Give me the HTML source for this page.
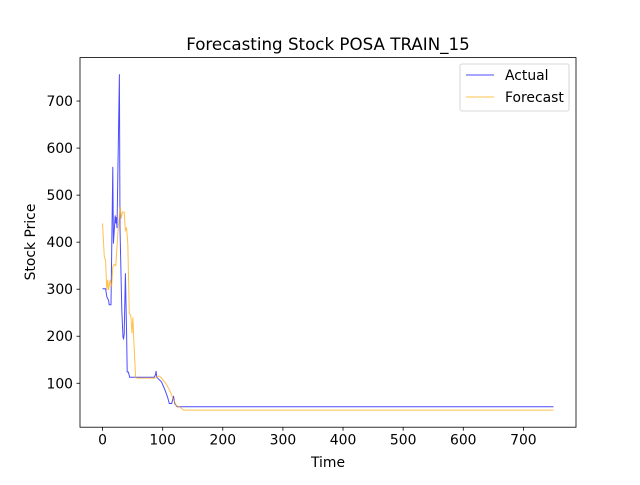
<!DOCTYPE html>
<html><head><meta charset="utf-8"><style>
body{margin:0;background:#fff;}
svg text{font-family:"DejaVu Sans","Liberation Sans",sans-serif;fill:#000;}
</style></head><body>
<svg id="chart" width="640" height="480" xmlns="http://www.w3.org/2000/svg">
<rect width="640" height="480" fill="#fff"/>
<text x="328" y="50" font-size="16.7" text-anchor="middle">Forecasting Stock POSA TRAIN_15</text>
<g id="plot"></g>
<rect x="80" y="57.6" width="496" height="369.6" fill="none" stroke="#000" stroke-width="0.8"/>
<g id="ticks"></g>
<text x="328" y="467" font-size="13.9" text-anchor="middle">Time</text>
<text transform="translate(35,242) rotate(-90)" font-size="13.9" text-anchor="middle">Stock Price</text>
<g>
<rect x="460" y="64" width="109" height="47" rx="2" fill="#fff" fill-opacity="0.8" stroke="#ccc" stroke-width="0.8"/>
<line x1="466" y1="75" x2="494" y2="75" stroke="#0000ff" stroke-opacity="0.7" stroke-width="1"/>
<text x="505" y="80" font-size="13.9">Actual</text>
<line x1="466" y1="97" x2="494" y2="97" stroke="#ffa500" stroke-opacity="0.7" stroke-width="1"/>
<text x="505" y="102" font-size="13.9">Forecast</text>
</g>
</svg>
<script>
const actualT=[0,5,7,10,11,14,17,18,21,22,23,24,28,29,32,34,35,36,38,40,41,43,45,86,88,89,90,98,104,108,111,115,118,120,124,750];
const actualV=[301,301,284,276,267,267,560,397,457,440,453,430,757,430,255,198,195,205,334,206,124,124,113,113,118,126,113,103,85,71,57,57,73,57,50,50];
const forecastT=[0,3,5,7,8.5,10,12.5,15,17,19.5,22,26,29.5,31,33,36,38,40,42,44.5,47,49,50.5,52,55,57,87,91,95,100,106,112,118,123,128,135,750];
const forecastV=[440,369,360,298,320,298,320,305,347,353,350,430,475,450,464,464,425,430,397,248,245,206,240,192,113,111,111,115,115,108,98,84,65,52,50,43,43];
const xTicks=[0,100,200,300,400,500,600,700];
const yTicks=[100,200,300,400,500,600,700];
const X0=80,X1=576,Y0=427.2,Y1=57.6,xmin=-37.5,xmax=787.5,ymin=6.6,ymax=792.4;
const xs=t=>X0+(t-xmin)/(xmax-xmin)*(X1-X0);
const ys=v=>Y0-(v-ymin)/(ymax-ymin)*(Y0-Y1);
const NS="http://www.w3.org/2000/svg";
const plot=document.getElementById('plot'),ticks=document.getElementById('ticks');
function line(T,V,color,name){
  const p=document.createElementNS(NS,'polyline');
  p.setAttribute('points',T.map((t,i)=>xs(t).toFixed(1)+','+ys(V[i]).toFixed(1)).join(' '));
  p.setAttribute('fill','none');p.setAttribute('stroke',color);p.setAttribute('stroke-opacity','0.7');p.setAttribute('stroke-width','1');
  
  
  plot.appendChild(p);
}
line(actualT,actualV,'#0000ff','actual-line');
line(forecastT,forecastV,'#ffa500','forecast-line');
xTicks.forEach(t=>{
  const x=xs(t);
  const l=document.createElementNS(NS,'line');
  l.setAttribute('x1',x);l.setAttribute('x2',x);l.setAttribute('y1',Y0);l.setAttribute('y2',Y0+3.5);l.setAttribute('stroke','#000');l.setAttribute('stroke-width','0.8');
  
  
  ticks.appendChild(l);
  const tx=document.createElementNS(NS,'text');
  tx.setAttribute('x',x);tx.setAttribute('y',Y0+17.5);tx.setAttribute('font-size','13.9');tx.setAttribute('text-anchor','middle');
  tx.textContent=t;
  
  
  ticks.appendChild(tx);
});
yTicks.forEach(v=>{
  const y=ys(v);
  const l=document.createElementNS(NS,'line');
  l.setAttribute('x1',X0-3.5);l.setAttribute('x2',X0);l.setAttribute('y1',y);l.setAttribute('y2',y);l.setAttribute('stroke','#000');l.setAttribute('stroke-width','0.8');
  
  
  ticks.appendChild(l);
  const tx=document.createElementNS(NS,'text');
  tx.setAttribute('x',X0-7);tx.setAttribute('y',y+5);tx.setAttribute('font-size','13.9');tx.setAttribute('text-anchor','end');
  tx.textContent=v;
  
  
  ticks.appendChild(tx);
});
</script>
</body></html>
